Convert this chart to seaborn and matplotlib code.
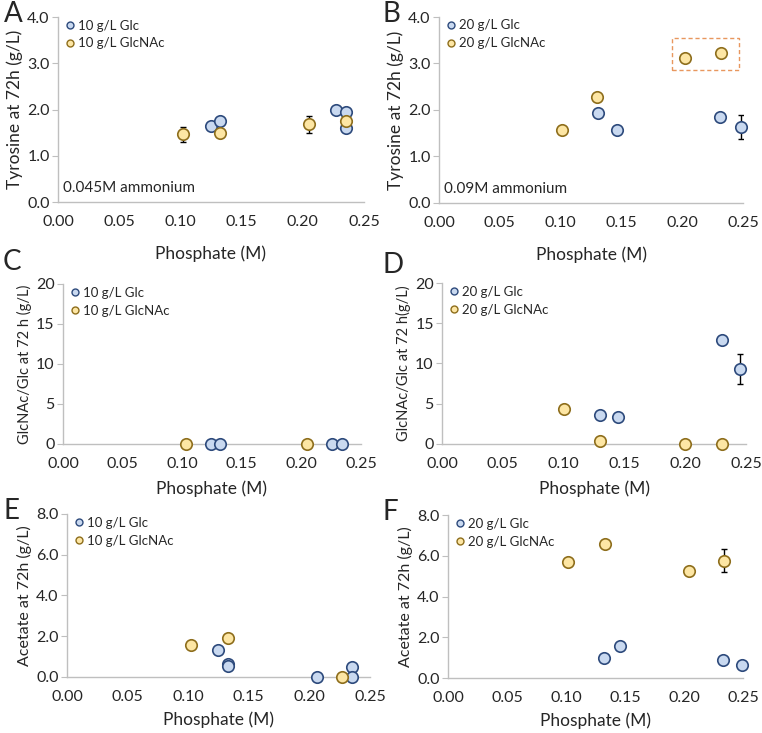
import numpy as np
import pandas as pd
import matplotlib
matplotlib.use("Agg")
import matplotlib.pyplot as plt
from matplotlib.lines import Line2D
from matplotlib.patches import Rectangle
import seaborn as sns

# ---- data ----
A_glc_x = [0.125, 0.132, 0.227, 0.235, 0.235]
A_glc_y = [1.65, 1.75, 2.00, 1.94, 1.61]
A_glc_err = [0, 0, 0, 0, 0]
A_nac_x = [0.102, 0.132, 0.205, 0.235]
A_nac_y = [1.46, 1.50, 1.68, 1.76]
A_nac_err = [0.16, 0, 0.18, 0]

B_glc_x = [0.131, 0.146, 0.231, 0.248]
B_glc_y = [1.94, 1.58, 1.84, 1.64]
B_glc_err = [0, 0, 0.08, 0.26]
B_nac_x = [0.101, 0.130, 0.202, 0.232]
B_nac_y = [1.56, 2.27, 3.12, 3.22]
B_nac_err = [0, 0, 0, 0]

C_glc_x = [0.124, 0.132, 0.226, 0.234]
C_glc_y = [0, 0, 0, 0]
C_glc_err = [0, 0, 0, 0]
C_nac_x = [0.103, 0.205]
C_nac_y = [0, 0]
C_nac_err = [0, 0]

D_glc_x = [0.130, 0.145, 0.230, 0.245]
D_glc_y = [3.6, 3.4, 12.9, 9.3]
D_glc_err = [0, 0, 0, 1.85]
D_nac_x = [0.100, 0.130, 0.200, 0.230]
D_nac_y = [4.4, 0.4, 0, 0]
D_nac_err = [0, 0, 0, 0]

E_glc_x = [0.125, 0.133, 0.133, 0.206, 0.235, 0.235]
E_glc_y = [1.32, 0.64, 0.52, 0, 0.50, 0]
E_glc_err = [0, 0, 0, 0, 0, 0]
E_nac_x = [0.102, 0.133, 0.227]
E_nac_y = [1.56, 1.90, 0]
E_nac_err = [0, 0, 0]

F_glc_x = [0.132, 0.146, 0.233, 0.249]
F_glc_y = [0.96, 1.55, 0.88, 0.64]
F_glc_err = [0, 0, 0, 0]
F_nac_x = [0.102, 0.133, 0.204, 0.234]
F_nac_y = [5.70, 6.56, 5.26, 5.75]
F_nac_err = [0, 0.1, 0, 0.57]

xticks = [0.00, 0.05, 0.10, 0.15, 0.20, 0.25]

glc_face, glc_edge = "#C9D9F0", "#2D4A7C"
nac_face, nac_edge = "#FDE6A4", "#8E6E1C"
axis_col = "#BFBFBF"

sns.set_style("white")
plt.rcParams["font.family"] = ["Lato", "DejaVu Sans"]

W, H = 762, 733
fig = plt.figure(figsize=(W / 100, H / 100), dpi=100)

panels = [
    # letter, rect, glc, nac, ymax, yticks, fmt, ylabel, ylabel size, dose, note, xlabel pad, letter pos (px)
    ("A", [0.0761, 0.7244, 0.4016, 0.2524], (A_glc_x, A_glc_y, A_glc_err), (A_nac_x, A_nac_y, A_nac_err),
     4, [0, 1, 2, 3, 4], "{:.1f}", "Tyrosine at 72h (g/L)", 12.5, "10", "0.045M ammonium", 12, (4, 14)),
    ("B", [0.5761, 0.7231, 0.3990, 0.2537], (B_glc_x, B_glc_y, B_glc_err), (B_nac_x, B_nac_y, B_nac_err),
     4, [0, 1, 2, 3, 4], "{:.1f}", "Tyrosine at 72h (g/L)", 12.5, "20", "0.09M ammonium", 12, (383, 14)),
    ("C", [0.0827, 0.3943, 0.3910, 0.2183], (C_glc_x, C_glc_y, C_glc_err), (C_nac_x, C_nac_y, C_nac_err),
     20, [0, 5, 10, 15, 20], "{:.0f}", "GlcNAc/Glc at 72 h (g/L)", 10.5, "10", None, 7, (3, 262)),
    ("D", [0.5801, 0.3943, 0.3990, 0.2196], (D_glc_x, D_glc_y, D_glc_err), (D_nac_x, D_nac_y, D_nac_err),
     20, [0, 5, 10, 15, 20], "{:.0f}", "GlcNAc/Glc at 72 h(g/L)", 10.5, "20", None, 7, (383, 265)),
    ("E", [0.0879, 0.0764, 0.3976, 0.2224], (E_glc_x, E_glc_y, E_glc_err), (E_nac_x, E_nac_y, E_nac_err),
     8, [0, 2, 4, 6, 8], "{:.1f}", "Acetate at 72h (g/L)", 11.5, "10", None, 5, (3, 511)),
    ("F", [0.5879, 0.0750, 0.3872, 0.2224], (F_glc_x, F_glc_y, F_glc_err), (F_nac_x, F_nac_y, F_nac_err),
     8, [0, 2, 4, 6, 8], "{:.1f}", "Acetate at 72h (g/L)", 11.5, "20", None, 5, (383, 512)),
]

for letter, rect, glc, nac, ymax, yt, fmt, ylabel, ysize, dose, note, lpad, lpos in panels:
    ax = fig.add_axes(rect)
    ax.set_facecolor("none")
    for xs, ys, es in (glc, nac):
        for x, y, e in zip(xs, ys, es):
            if e > 0:
                ax.errorbar(x, y, yerr=e, fmt="none", ecolor="black", elinewidth=1.0,
                            capsize=2, capthick=1.0, zorder=2)
    df = pd.concat([
        pd.DataFrame({"x": glc[0], "y": glc[1], "s": "glc"}),
        pd.DataFrame({"x": nac[0], "y": nac[1], "s": "nac"}),
    ])
    for s, face, edge in (("glc", glc_face, glc_edge), ("nac", nac_face, nac_edge)):
        sub = df[df.s == s]
        sns.scatterplot(data=sub, x="x", y="y", ax=ax, s=68, color=face,
                        edgecolor=edge, linewidth=1.2, zorder=3, clip_on=False, legend=False)

    ax.set_xlim(0, 0.25)
    ax.set_ylim(0, ymax)
    ax.set_xticks(xticks)
    ax.set_xticklabels(["{:.2f}".format(t) for t in xticks])
    ax.set_yticks(yt)
    ax.set_yticklabels([fmt.format(t) for t in yt])
    for side in ("top", "right"):
        ax.spines[side].set_visible(False)
    for side in ("left", "bottom"):
        ax.spines[side].set_color(axis_col)
        ax.spines[side].set_linewidth(1.0)
    ax.tick_params(axis="y", left=True, length=4, color=axis_col, labelsize=11.5, pad=2)
    ax.tick_params(axis="x", bottom=False, labelsize=11.5, pad=6)
    ax.set_xlabel("Phosphate (M)", fontsize=12.5, labelpad=lpad)
    ax.set_ylabel(ylabel, fontsize=ysize, labelpad=3)

    handles = [
        Line2D([], [], marker="o", ls="", markersize=5, markerfacecolor=glc_face,
               markeredgecolor=glc_edge, markeredgewidth=1.0, label=f"{dose} g/L Glc"),
        Line2D([], [], marker="o", ls="", markersize=5, markerfacecolor=nac_face,
               markeredgecolor=nac_edge, markeredgewidth=1.0, label=f"{dose} g/L GlcNAc"),
    ]
    ax.legend(handles=handles, loc="upper left", bbox_to_anchor=(0.0, 1.015), frameon=False,
              fontsize=9.5, handletextpad=0.1, handlelength=1.0, labelspacing=0.45,
              borderaxespad=0)

    if note:
        ax.text(0.004, 0.3, note, fontsize=11, ha="left", va="center")

    if letter == "B":
        ax.add_patch(Rectangle((0.1915, 2.87), 0.0549, 0.67, fill=False, ls=(0, (3, 2)),
                               edgecolor="#E8975E", linewidth=1.0, zorder=1))

    fig.text(lpos[0] / W, 1 - lpos[1] / H, letter, fontsize=20, ha="left", va="center")

fig.savefig("out.png", dpi=100)
